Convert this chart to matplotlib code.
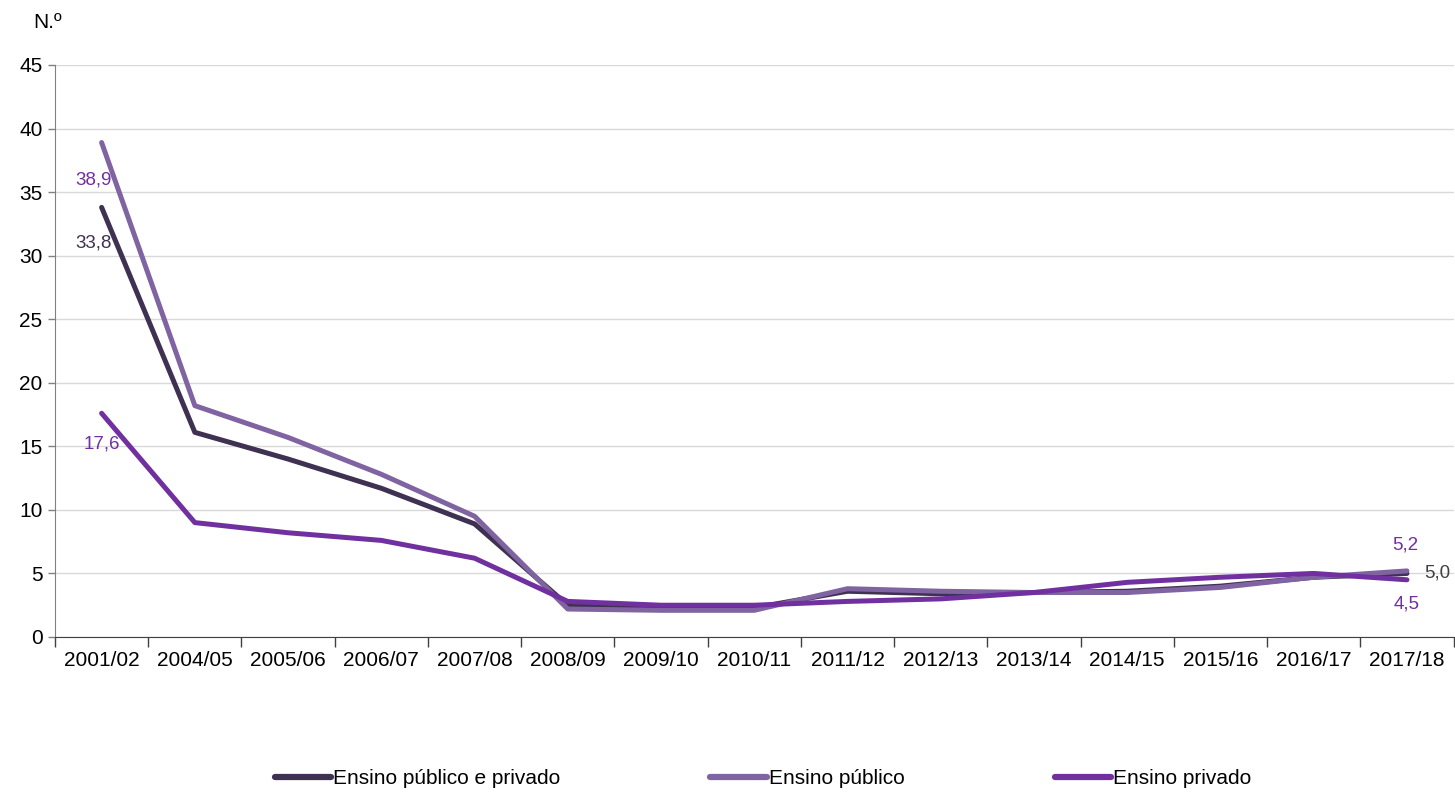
import matplotlib
matplotlib.use("Agg")
import matplotlib.pyplot as plt
import numpy as np

plt.rcParams['font.family'] = ['Liberation Sans', 'DejaVu Sans']

categories = ["2001/02", "2004/05", "2005/06", "2006/07", "2007/08", "2008/09", "2009/10",
              "2010/11", "2011/12", "2012/13", "2013/14", "2014/15", "2015/16", "2016/17", "2017/18"]
total = [33.8, 16.1, 14.0, 11.7, 8.9, 2.5, 2.3, 2.3, 3.6, 3.4, 3.5, 3.6, 4.0, 4.7, 5.0]
publico = [38.9, 18.2, 15.7, 12.8, 9.5, 2.2, 2.1, 2.1, 3.8, 3.6, 3.5, 3.5, 3.9, 4.7, 5.2]
privado = [17.6, 9.0, 8.2, 7.6, 6.2, 2.8, 2.5, 2.5, 2.8, 3.0, 3.5, 4.3, 4.7, 5.0, 4.5]
series_names = ["Ensino público e privado", "Ensino público", "Ensino privado"]
yticks = [0, 5, 10, 15, 20, 25, 30, 35, 40, 45]

c_total = "#3F3151"
c_pub = "#8064A2"
c_priv = "#7030A0"

fig = plt.figure(figsize=(14.55, 7.94), dpi=100)
ax = fig.add_axes([55/1455, 1-637/794, 1-55/1455 - 0.001, (637-65)/794])

x = np.arange(len(categories))
lw = 3.6
ax.plot(x, total, color=c_total, lw=lw, label=series_names[0], solid_capstyle='round', zorder=3)
ax.plot(x, publico, color=c_pub, lw=lw, label=series_names[1], solid_capstyle='round', zorder=3)
ax.plot(x, privado, color=c_priv, lw=lw, label=series_names[2], solid_capstyle='round', zorder=4)

ax.set_xlim(-0.5, len(categories) - 0.5)
ax.set_ylim(0, 45)
ax.set_yticks(yticks)
ax.set_yticklabels([str(v) for v in yticks], fontsize=15)
ax.yaxis.grid(True, color="#D9D9D9", lw=1)
ax.set_axisbelow(True)

ax.set_xticks(x)
ax.set_xticklabels(categories, fontsize=15)
ax.tick_params(axis='x', which='major', length=0, pad=10)
ax.set_xticks(np.arange(-0.5, len(categories), 1.0), minor=True)
ax.tick_params(axis='x', which='minor', length=7, color="#404040", width=1)
ax.tick_params(axis='y', length=5, color="#808080", width=1, pad=4)

for s in ['top', 'right']:
    ax.spines[s].set_visible(False)
ax.spines['left'].set_color("#808080")
ax.spines['bottom'].set_color("#404040")

fig.text(33/1455, 1-22/794, "N.º", fontsize=15, va='center', ha='left')

lab_fs = 13.5
last = len(categories) - 1
ax.annotate("38,9", (0, publico[0]), xytext=(-8, -37), textcoords='offset pixels',
            ha='center', va='center', color=c_priv, fontsize=lab_fs)
ax.annotate("33,8", (0, total[0]), xytext=(-8, -36), textcoords='offset pixels',
            ha='center', va='center', color=c_total, fontsize=lab_fs)
ax.annotate("17,6", (0, privado[0]), xytext=(0, -31), textcoords='offset pixels',
            ha='center', va='center', color=c_priv, fontsize=lab_fs)
ax.annotate("5,2", (last, publico[last]), xytext=(-2, 26), textcoords='offset pixels',
            ha='center', va='center', color=c_priv, fontsize=lab_fs)
ax.annotate("5,0", (last, total[last]), xytext=(30, 0), textcoords='offset pixels',
            ha='center', va='center', color="#404040", fontsize=lab_fs)
ax.annotate("4,5", (last, privado[last]), xytext=(0, -24), textcoords='offset pixels',
            ha='center', va='center', color=c_priv, fontsize=lab_fs)

leg = fig.legend(loc='center', bbox_to_anchor=(763/1455, 1-779/794), ncol=3, frameon=False,
                 fontsize=15, handlelength=2.7, handletextpad=0.1, columnspacing=7.2)
for h in leg.legend_handles:
    h.set_linewidth(4.5)

fig.savefig("out.png", dpi=100)
